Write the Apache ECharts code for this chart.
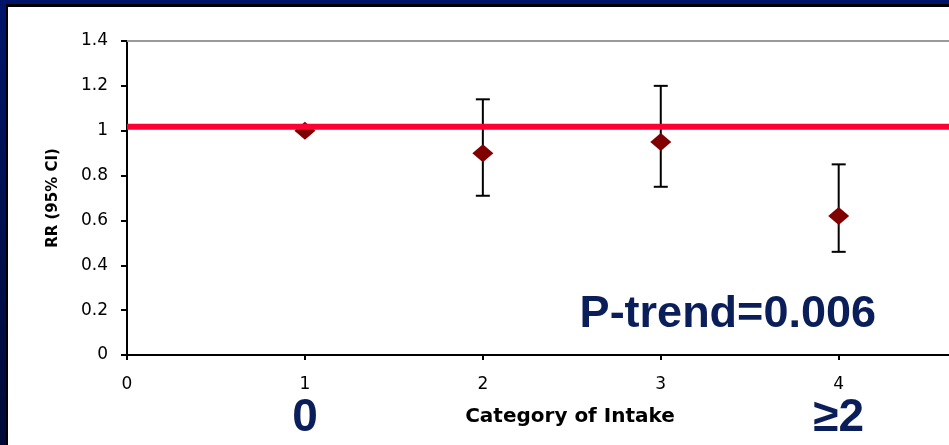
<!DOCTYPE html>
<html><head><meta charset="utf-8">
<script src="https://cdn.jsdelivr.net/npm/echarts@6/dist/echarts.min.js"></script>
<style>html,body{margin:0;padding:0;background:#00135f;}#c{width:949px;height:445px;}</style>
</head><body><div id="c"></div>
<script>
// ---- data ----
const categories = [1, 2, 3, 4];
const rr = [1.0, 0.90, 0.95, 0.62];
const ciLow = [1.0, 0.71, 0.75, 0.46];
const ciHigh = [1.0, 1.14, 1.20, 0.85];
const refValue = 1.018;
const refRange = [0, 5];
const yMin = 0, yMax = 1.4, yStep = 0.2;
const xMin = 0, xMax = 4.62, xStep = 1;
const groupLabelX = [1, 4];
const groupLabelText = ['0', '\u22652'];
const trendText = 'P-trend=0.006';

const navy = '#0A1E5A';
const chart = echarts.init(document.getElementById('c'));

const scatterData = categories.map((c, i) => [c, rr[i]]);
const errData = categories.map((c, i) => [c, ciLow[i], ciHigh[i]]);
const refData = refRange.map(x => [x, refValue]);

const option = {
  animation: false,
  backgroundColor: new echarts.graphic.LinearGradient(0, 0, 0, 1, [
    {offset: 0, color: '#00156a'}, {offset: 1, color: '#000a38'}
  ]),
  grid: {left: 127, top: 41, bottom: 90, right: 0, show: false},
  xAxis: [{
    type: 'value', min: xMin, max: xMax, interval: xStep,
    name: 'Category of Intake', nameLocation: 'middle', nameGap: 52,
    nameTextStyle: {fontFamily: 'DejaVu Sans', fontWeight: 'bold', fontSize: 20, color: '#000',
                    padding: [0, 0, 0, 64]},
    axisLine: {show: true, onZero: false, lineStyle: {color: '#000', width: 2}},
    axisTick: {show: true, length: 5, lineStyle: {color: '#000', width: 2}},
    axisLabel: {fontFamily: 'DejaVu Sans', fontSize: 17, color: '#000', margin: 21, showMaxLabel: false},
    splitLine: {show: false}
  }, {
    type: 'value', position: 'top', min: xMin, max: xMax, interval: xStep,
    axisLine: {show: true, onZero: false, lineStyle: {color: '#999', width: 2}},
    axisTick: {show: false}, axisLabel: {show: false}, splitLine: {show: false}
  }],
  yAxis: {
    type: 'value', min: yMin, max: yMax, interval: yStep,
    name: 'RR (95% CI)', nameLocation: 'middle', nameGap: 66, nameRotate: 90,
    nameTextStyle: {fontFamily: 'DejaVu Sans', fontWeight: 'bold', fontSize: 15, color: '#000'},
    axisLine: {show: true, lineStyle: {color: '#000', width: 2}},
    axisTick: {show: true, length: 6, lineStyle: {color: '#000', width: 2}},
    axisLabel: {fontFamily: 'DejaVu Sans', fontSize: 17, color: '#000', margin: 19},
    splitLine: {show: false}
  },
  series: [
    {
      type: 'custom', z: 2, data: errData,
      renderItem(params, api) {
        const x = api.value(0), lo = api.value(1), hi = api.value(2);
        if (hi - lo < 1e-9) return null;
        const pLo = api.coord([x, lo]), pHi = api.coord([x, hi]);
        const hw = 7;
        const style = {stroke: '#000', lineWidth: 2};
        return {type: 'group', children: [
          {type: 'line', shape: {x1: pHi[0], y1: pHi[1], x2: pLo[0], y2: pLo[1]}, style},
          {type: 'line', shape: {x1: pHi[0] - hw, y1: pHi[1], x2: pHi[0] + hw, y2: pHi[1]}, style},
          {type: 'line', shape: {x1: pLo[0] - hw, y1: pLo[1], x2: pLo[0] + hw, y2: pLo[1]}, style}
        ]};
      }
    },
    {
      type: 'scatter', z: 3, data: scatterData, symbol: 'diamond', symbolSize: [21, 18],
      itemStyle: {color: '#800000', opacity: 1}
    },
    {
      type: 'line', z: 10, data: refData, showSymbol: false, symbol: 'none', clip: true,
      lineStyle: {color: '#FF0033', width: 6}
    }
  ]
};
chart.setOption(option);

const labelGraphics = groupLabelX.map((x, i) => {
  const px = chart.convertToPixel({gridIndex: 0}, [x, 0]);
  return {
    type: 'text', z: 100, x: px[0], y: 418,
    style: {text: groupLabelText[i], fill: navy, font: 'bold 46px "Liberation Sans", Arial, sans-serif',
            align: 'center', verticalAlign: 'middle'}
  };
});

chart.setOption({
  graphic: [
    {type: 'rect', z: -10, shape: {x: 6, y: 4, width: 960, height: 460}, style: {fill: '#000'}},
    {type: 'rect', z: -9, shape: {x: 8, y: 7, width: 960, height: 460}, style: {fill: '#fff'}},
    {type: 'text', z: 100, x: 876, y: 315,
     style: {text: trendText, fill: navy, font: 'bold 45px "Liberation Sans", Arial, sans-serif',
             align: 'right', verticalAlign: 'middle'}},
    ...labelGraphics
  ]
});
</script></body></html>
